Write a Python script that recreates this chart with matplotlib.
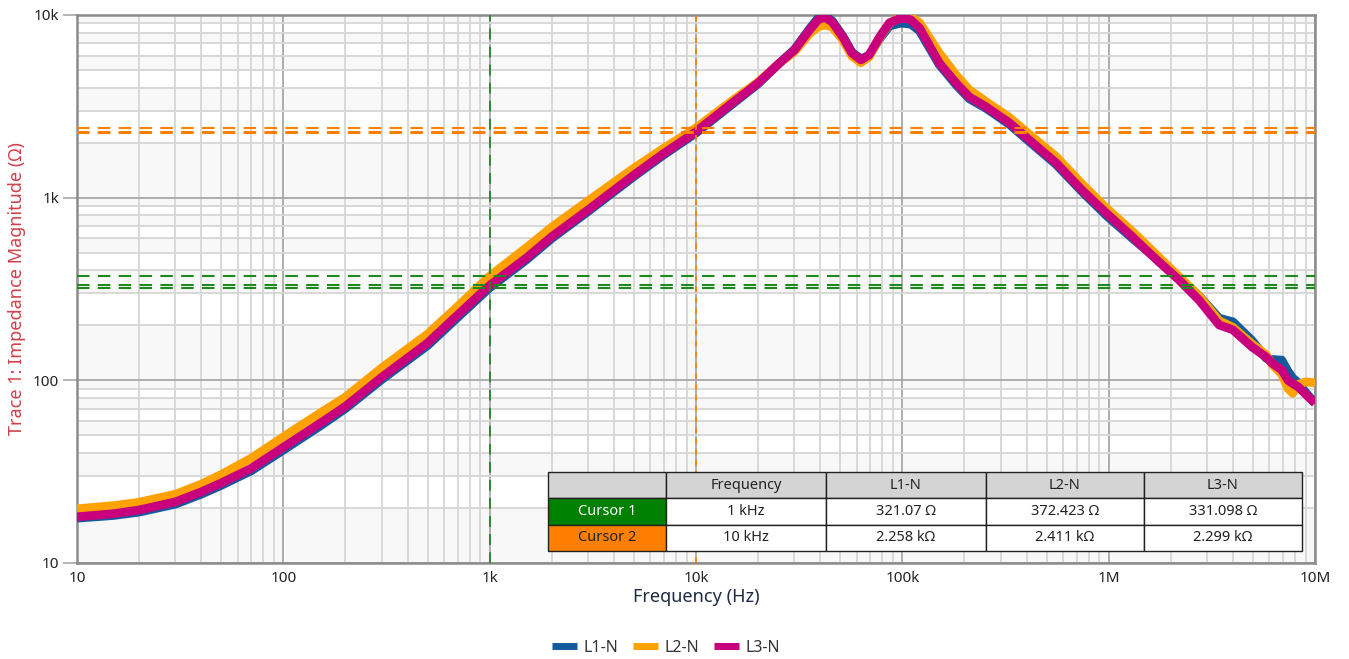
import numpy as np
import matplotlib
matplotlib.use('Agg')
import matplotlib.pyplot as plt
from matplotlib.ticker import FuncFormatter, LogLocator

plt.rcParams['font.family'] = ['Noto Sans', 'DejaVu Sans']

# frekuensi (Hz)
freq = [10, 15, 20, 30, 40, 50, 70, 100, 150, 200, 300, 500, 700,
        1e3, 1.5e3, 2e3, 3e3, 5e3, 7e3, 1e4, 1.5e4, 2e4, 2.54e4, 3e4,
        3.55e4, 3.9e4, 4.2e4, 4.57e4, 5.15e4, 5.7e4, 6.3e4, 6.9e4, 7.76e4,
        8.65e4, 9.68e4, 1.02e5, 1.1e5, 1.21e5, 1.51e5, 1.82e5, 2.11e5,
        2.55e5, 3.3e5, 4.27e5, 5.56e5, 7.42e5, 9.72e5, 1.3e6, 1.41e6,
        1.76e6, 2.19e6, 2.74e6, 3.43e6, 4.0e6, 4.96e6, 5.8e6, 6.2e6, 6.9e6,
        7.4e6, 7.8e6, 8.3e6, 9.0e6, 1e7]

# impedansi (Ohm)
l3_n = [17.9, 18.6, 19.5, 21.6, 24.5, 27.4, 33, 43, 58, 72, 104, 160, 228,
        331, 466, 612, 857, 1330, 1750, 2299, 3300, 4245, 5460, 6430,
        8280, 9400, 9750, 9160, 7580, 6190, 5680, 6040, 7580,
        9040, 9550, 9600, 9400, 8500, 5460, 4245, 3560,
        3140, 2570, 2000, 1550, 1100, 824, 612, 560,
        443, 355, 275, 201, 189, 152, 134, 124, 114,
        100, 96, 92, 84, 75]

l2_n = [19.8, 20.6, 21.5, 23.8, 27.0, 30.5, 37.5, 49, 66, 81, 117, 179, 254,
        372, 530, 690, 960, 1450, 1870, 2411, 3400, 4300, 5450, 6300,
        7900, 8600, 8830, 8600, 7300, 5950, 5480, 5900, 7500,
        9000, 9700, 9800, 9750, 9100, 6200, 4700, 3900,
        3350, 2750, 2150, 1680, 1190, 880, 655, 600,
        470, 370, 290, 212, 195, 158, 138, 122, 108,
        90, 85, 95, 98, 97]

l1_n = [17.6, 18.2, 19.0, 21.0, 23.8, 26.6, 32, 41.5, 56, 70, 101, 155, 221,
        321, 455, 598, 840, 1305, 1720, 2258, 3250, 4200, 5450, 6480,
        8400, 9600, 9900, 9300, 7650, 6250, 5750, 6000, 7400,
        8700, 9000, 9000, 8900, 8200, 5350, 4150, 3480,
        3080, 2520, 1960, 1520, 1080, 800, 600, 555,
        450, 365, 290, 219, 209, 165, 132, 130, 129,
        112, 103, 97, 86, 75]

# kursor
cursor_names = ['Cursor 1', 'Cursor 2']
cursor_freq = [1e3, 1e4]
cursor_freq_label = ['1 kHz', '10 kHz']
cursor_vals = [[321.07, 372.423, 331.098],
               [2258, 2411, 2299]]
series_names = ['L1-N', 'L2-N', 'L3-N']
colors = ['#155a9c', '#ffa200', '#c8007e']
cursor_colors = ['#1e8a1e', '#ff8000']
cell_colors = ['#008000', '#ff8000']


def fmt_tick(v, pos):
    lab = {10: '10', 100: '100', 1e3: '1k', 1e4: '10k', 1e5: '100k',
           1e6: '1M', 1e7: '10M'}
    for k in lab:
        if abs(v - k) / k < 1e-6:
            return lab[k]
    return ''


def fmt_ohm(v):
    if v >= 1000:
        return f'{v / 1000:g} kΩ'
    return f'{v:g} Ω'


fig = plt.figure(figsize=(13.49, 6.59), dpi=100)
ax = fig.add_axes([77 / 1349, 1 - 563 / 659, 1238 / 1349, 548 / 659])
ax.set_xscale('log')
ax.set_yscale('log')
ax.set_xlim(10, 1e7)
ax.set_ylim(10, 1e4)

# pita latar abu-abu
for d in range(1, 4):
    for k in [1, 3, 5, 7, 9]:
        ax.axhspan(k * 10 ** d, (k + 1) * 10 ** d, color='#f8f8f8', lw=0, zorder=0)

ax.grid(which='minor', color='#d6d6d6', lw=1.3, zorder=1)
ax.grid(which='major', color='#a8a8a8', lw=1.3, zorder=1)
ax.set_axisbelow(True)
ax.xaxis.set_minor_locator(LogLocator(base=10, subs=np.arange(2, 10)))
ax.yaxis.set_minor_locator(LogLocator(base=10, subs=np.arange(2, 10)))

for name, vals, c in zip(series_names, [l1_n, l2_n, l3_n], colors):
    ax.plot(freq, vals, color=c, lw=6.3, label=name, zorder=3,
            solid_capstyle='butt', solid_joinstyle='round')

# garis kursor
ax.axvline(cursor_freq[0], color=cursor_colors[0], lw=1.3, dashes=(6, 4), zorder=4)
ax.axvline(cursor_freq[1], color=cursor_colors[1], lw=1.3, dashes=(3, 3), zorder=4)
for i in range(2):
    for v in cursor_vals[i]:
        ax.axhline(v, color=cursor_colors[i], lw=1.5, dashes=(6, 4), zorder=4)

for s in ax.spines.values():
    s.set_color('#8c8c8c')
    s.set_linewidth(1.8)

ax.xaxis.set_major_formatter(FuncFormatter(fmt_tick))
ax.yaxis.set_major_formatter(FuncFormatter(fmt_tick))
ax.xaxis.set_minor_formatter(FuncFormatter(lambda v, p: ''))
ax.yaxis.set_minor_formatter(FuncFormatter(lambda v, p: ''))
ax.tick_params(axis='x', which='both', length=0, labelsize=11, labelcolor='#222222', pad=6)
ax.tick_params(axis='y', which='major', length=10, width=1.2, color='#a8a8a8',
               labelsize=11, labelcolor='#222222', pad=3)
ax.tick_params(axis='y', which='minor', length=0)

ax.set_xlabel('Frequency (Hz)', fontsize=13, color='#1f2a44', labelpad=1)
ax.set_ylabel('Trace 1: Impedance Magnitude (Ω)', fontsize=13, color='#d0404a', labelpad=5)

# tabel kursor
rows = [['', 'Frequency'] + series_names]
for i in range(2):
    rows.append([cursor_names[i], cursor_freq_label[i]] + [fmt_ohm(v) for v in cursor_vals[i]])
widths = np.array([118, 160, 160, 158, 158]) / 1238
tb = ax.table(cellText=rows, colWidths=list(widths),
              bbox=[(548 - 77) / 1238, (563 - 551) / 548, 754 / 1238, 79 / 548],
              cellLoc='center', zorder=6)
tb.auto_set_font_size(False)
for (r, c), cell in tb.get_celld().items():
    cell.set_edgecolor('#222222')
    cell.set_linewidth(1.0)
    cell.get_text().set_fontsize(10.5)
    cell.get_text().set_color('#222222')
    if r == 0:
        cell.set_facecolor('#d4d4d4')
    else:
        cell.set_facecolor('white')
    if r > 0 and c == 0:
        cell.set_facecolor(cell_colors[r - 1])
        if r == 1:
            cell.get_text().set_color('white')

leg = fig.legend(loc='center', bbox_to_anchor=(666 / 1349, 1 - 648 / 659), ncol=3,
                 frameon=False, fontsize=11.5, handlelength=1.6, handletextpad=0.4,
                 columnspacing=0.9)
for h in leg.legend_handles:
    h.set_linewidth(5)
for t in leg.get_texts():
    t.set_color('#333333')

fig.savefig('out.png', dpi=100)
